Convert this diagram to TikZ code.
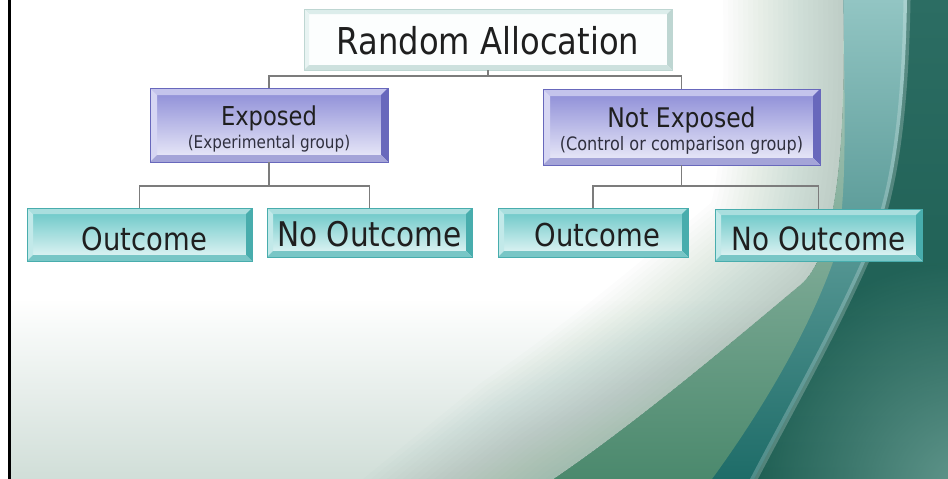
\documentclass[tikz,border=0pt]{standalone}
\usepackage{fontspec}
\setmainfont{DejaVu Sans}[FakeStretch=0.87]
\usetikzlibrary{calc,fadings}

% background
\definecolor{bgtop}{HTML}{2C6D63}
\definecolor{bgmid}{HTML}{2A6F62}
\definecolor{bgbot}{HTML}{195A4E}
\definecolor{bgcorner}{HTML}{6A9E94}
\definecolor{tealtop}{HTML}{92C5C3}
\definecolor{tealmid}{HTML}{4A9593}
\definecolor{tealbot}{HTML}{1E6C68}
\definecolor{greentop}{HTML}{B5CFC3}
\definecolor{greenmid}{HTML}{8AAE9B}
\definecolor{greenbot}{HTML}{4B896D}
\definecolor{glowmid}{HTML}{E4EDE9}
\definecolor{glowedge}{HTML}{B9CEC5}
\definecolor{edgeshade}{HTML}{6A9682}
\definecolor{bottomshade}{HTML}{BCD0C7}
% lines and text
\definecolor{linkgrey}{HTML}{7C7C7C}
\definecolor{inkdark}{HTML}{1F1F1F}
\definecolor{inksub}{HTML}{30303F}
% teal bevel boxes
\definecolor{tqFaceTop}{HTML}{64C5C5}
\definecolor{tqFaceBot}{HTML}{E8F7F7}
\definecolor{tqTop}{HTML}{A9DEDE}
\definecolor{tqLeft}{HTML}{C2E9E9}
\definecolor{tqRight}{HTML}{48ADAD}
\definecolor{tqBottom}{HTML}{78C6C6}
% violet bevel boxes
\definecolor{ppFaceTop}{HTML}{8A8AD6}
\definecolor{ppFaceBot}{HTML}{EEEEFA}
\definecolor{ppTop}{HTML}{C4C4EC}
\definecolor{ppLeft}{HTML}{D6D6F3}
\definecolor{ppRight}{HTML}{6868BC}
\definecolor{ppBottom}{HTML}{A4A4D8}
% pale bevel box
\definecolor{plFace}{HTML}{FCFEFE}
\definecolor{plTop}{HTML}{DCEDEB}
\definecolor{plLeft}{HTML}{E8F3F2}
\definecolor{plRight}{HTML}{BED6D2}
\definecolor{plBottom}{HTML}{CDE1DE}

\pgfdeclareradialshading{glow}{\pgfpoint{0bp}{0bp}}{color(0bp)=(white); color(24bp)=(white); color(36bp)=(glowmid); color(50bp)=(glowedge)}
\tikzfading[name=softspot, inner color=transparent!0, outer color=transparent!100]

% edge of the large light swirl
\newcommand\lightedge{(843,-30) -- (843,0) .. controls (846,150) and (836,255) .. (800,285) .. controls (740,335) and (640,420) .. (553,479) -- (380,620)}

\tikzset{
  bevel/.style n args={5}{path picture={
    \path (path picture bounding box.north west) coordinate (bvNW)
          (path picture bounding box.north east) coordinate (bvNE)
          (path picture bounding box.south west) coordinate (bvSW)
          (path picture bounding box.south east) coordinate (bvSE);
    \fill[#2] (bvNW) -- (bvNE) -- ([shift={(-#1,-#1)}]bvNE) -- ([shift={(#1,-#1)}]bvNW) -- cycle;
    \fill[#3] (bvNW) -- ([shift={(#1,-#1)}]bvNW) -- ([shift={(#1,#1)}]bvSW) -- (bvSW) -- cycle;
    \fill[#4] (bvNE) -- (bvSE) -- ([shift={(-#1,#1)}]bvSE) -- ([shift={(-#1,-#1)}]bvNE) -- cycle;
    \fill[#5] (bvSW) -- (bvSE) -- ([shift={(-#1,#1)}]bvSE) -- ([shift={(#1,#1)}]bvSW) -- cycle;
  }},
  link/.style={draw=linkgrey, line width=1.3pt},
  palebox/.style={rectangle, inner sep=0pt, fill=plFace, draw=plRight, line width=0.5pt,
    bevel={5pt}{plTop}{plLeft}{plRight}{plBottom}, text=inkdark},
  tealbox/.style={rectangle, inner sep=0pt, top color=tqFaceTop, bottom color=tqFaceBot,
    draw=tqRight, line width=0.5pt, bevel={6pt}{tqTop}{tqLeft}{tqRight}{tqBottom}, text=inkdark},
  violetbox/.style={rectangle, inner sep=0pt, top color=ppFaceTop, bottom color=ppFaceBot,
    draw=ppRight, line width=0.5pt, bevel={7pt}{ppTop}{ppLeft}{ppRight}{ppBottom}, text=inkdark,
    align=center},
}

\begin{document}
\begin{tikzpicture}[x=1pt,y=-1pt]
\useasboundingbox (0,0) rectangle (948,479);

% ---- background layers ----
\shade[top color=bgtop, middle color=bgmid, bottom color=bgbot] (0,0) rectangle (948,479);
\fill[bgcorner, path fading=softspot, opacity=0.9] (965,490) circle (230pt);
% teal band
\shade[top color=tealtop, middle color=tealmid, bottom color=tealbot]
  (907,0) .. controls (905,120) and (893,205) .. (865,262)
  .. controls (830,340) and (790,410) .. (754,479) -- (0,479) -- (0,0) -- cycle;
\draw[white, opacity=0.22, line width=7pt]
  (907,-10) -- (907,0) .. controls (905,120) and (893,205) .. (865,262)
  .. controls (830,340) and (790,410) .. (754,479) -- (745,495);
% green band
\shade[top color=greentop, middle color=greenmid, bottom color=greenbot]
  (843,0) .. controls (846,150) and (846,215) .. (833,262)
  .. controls (805,340) and (755,420) .. (712,479) -- (0,479) -- (0,0) -- cycle;
% light swirl
\begin{scope}
  \clip (843,0) .. controls (846,150) and (836,255) .. (800,285)
    .. controls (740,335) and (640,420) .. (553,479) -- (0,479) -- (0,0) -- cycle;
  \shade[shading=glow] (380,170) circle (560pt);
  \fill[bottomshade, path fading=north] (0,300) rectangle (948,560);
  \foreach \w in {10,20,...,240}{
    \draw[edgeshade, line width=\w pt, line join=round, opacity=0.02] \lightedge;
  }
\end{scope}

% frame at the left
\fill[white] (0,0) rectangle (8.3,479);
\fill[black] (8.3,0) rectangle (10.7,479);

% ---- boxes ----
\node[palebox, minimum width=368pt, minimum height=61pt, font=\fontsize{37}{40}\selectfont,
  text height=29pt, text depth=0pt] (ra) at (488,39.5) {Random Allocation};

\node[violetbox, minimum width=238pt, minimum height=74pt, font=\fontsize{17.5}{23}\selectfont,
  text height=48pt, text depth=2pt] (exp) at (269,125)
  {{\fontsize{26}{28}\selectfont Exposed}\\\textcolor{inksub}{(Experimental group)}};
\node[violetbox, minimum width=277pt, minimum height=76pt, font=\fontsize{18.5}{23}\selectfont,
  text height=48pt, text depth=2pt] (nexp) at (681.5,127)
  {{\fontsize{27}{28}\selectfont Not Exposed}\\\textcolor{inksub}{(Control or comparison group)}};

\node[tealbox, minimum width=225pt, minimum height=53pt, font=\fontsize{31.5}{34}\selectfont,
  text height=31pt, text depth=0pt] (outL) at (139.5,234.5) {\hspace*{10pt}Outcome};
\node[tealbox, minimum width=205pt, minimum height=49pt, font=\fontsize{34}{36}\selectfont,
  text height=28.4pt, text depth=0pt] (noL) at (369.5,232.5) {No Outcome};
\node[tealbox, minimum width=190pt, minimum height=49pt, font=\fontsize{31.5}{34}\selectfont,
  text height=28.4pt, text depth=0pt] (outR) at (593,232.5) {\hspace*{9pt}Outcome};
\node[tealbox, minimum width=207pt, minimum height=52pt, font=\fontsize{32}{34}\selectfont,
  text height=30pt, text depth=0pt] (noR) at (818.5,235) {No Outcome};

% ---- connectors ----
\coordinate (busTop) at (488,76);
\coordinate (busL) at (269,186);
\coordinate (busR) at (681.5,186);
\draw[link] (ra.south) -- (busTop);
\draw[link] (exp.north) |- (busTop) -| (nexp.north);
\draw[link] (exp.south) -- (busL);
\draw[link] (outL.north) |- (busL) -| (noL.north);
\draw[link] (nexp.south) -- (busR);
\draw[link] (outR.north) |- (busR) -| (noR.north);
\end{tikzpicture}
\end{document}
